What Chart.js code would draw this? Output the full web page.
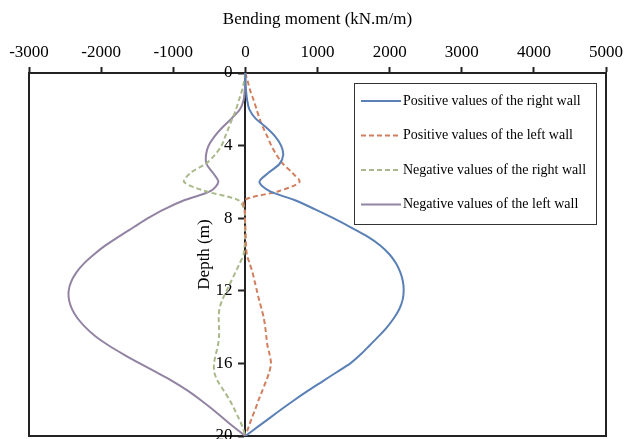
<!DOCTYPE html>
<html>
<head>
<meta charset="utf-8">
<script src="https://cdn.jsdelivr.net/npm/chart.js@4.4.1/dist/chart.umd.min.js"></script>
<style>
  html, body { margin: 0; padding: 0; background: #fff; }
  #wrap { width: 635px; height: 439px; }
</style>
</head>
<body>
<div id="wrap"><canvas id="momentChart"></canvas></div>
<script>
// depth below ground (m)
var depth = [0, 0.5, 1, 1.5, 2, 2.5, 3, 3.5, 4, 4.5, 5, 5.5, 6, 6.5, 7, 7.5, 8, 8.5, 9, 9.5,
  10, 10.5, 11, 11.5, 12, 12.5, 13, 13.5, 14, 14.5, 15, 15.5, 16, 16.5, 17, 17.5, 18, 18.5, 19, 19.5, 20];

// bending moment (kN.m/m) at each depth
var posRight = [0, 3, 10, 25, 55, 140, 290, 415, 495, 525, 475, 320, 195, 330, 680, 960, 1220, 1460, 1690, 1870,
  2000, 2090, 2150, 2185, 2195, 2180, 2135, 2060, 1965, 1850, 1725, 1600, 1455, 1260, 1065, 870, 685, 510, 340, 170, 0];
var posLeft = [0, 35, 70, 115, 155, 195, 245, 305, 360, 430, 520, 650, 750, 470, -15, -10, -5, 0, 5, 10,
  20, 60, 100, 130, 160, 190, 225, 255, 275, 290, 305, 335, 355, 330, 285, 235, 185, 140, 90, 45, 0];
var negRight = [0, -20, -50, -90, -130, -180, -230, -280, -330, -420, -550, -760, -850, -560, -100, -15, -5, -5, -5, -10,
  -25, -80, -140, -200, -260, -320, -360, -370, -365, -365, -380, -410, -435, -430, -380, -300, -220, -155, -95, -40, 0];
var negLeft = [0, -3, -10, -25, -75, -190, -320, -430, -510, -545, -540, -450, -375, -480, -840, -1120, -1350, -1550, -1750, -1940,
  -2100, -2240, -2345, -2415, -2450, -2445, -2405, -2330, -2220, -2080, -1900, -1690, -1465, -1230, -1000, -800, -625, -465, -315, -160, 0];

var seriesNames = [
  'Positive values of the right wall',
  'Positive values of the left wall',
  'Negative values of the right wall',
  'Negative values of the left wall'
];

var serif = '"Liberation Serif", "Times New Roman", serif';

function points(values) {
  return depth.map(function (d, i) { return { x: values[i], y: d }; });
}

// box around the plotting area
var frame = {
  id: 'frame',
  beforeDatasetsDraw: function (chart) {
    var a = chart.chartArea, ctx = chart.ctx;
    ctx.save();
    ctx.strokeStyle = '#222';
    ctx.lineWidth = 2;
    ctx.strokeRect(a.left, a.top, a.right - a.left, a.bottom - a.top);
    ctx.restore();
  }
};

// depth labels right-aligned against the centre axis, plus the axis title
var depthLabels = {
  id: 'depthLabels',
  beforeDatasetsDraw: function (chart) {
    var a = chart.chartArea, ctx = chart.ctx, ys = chart.scales.y;
    var x0 = chart.scales.x.getPixelForValue(0);
    ctx.save();
    ctx.font = '17px ' + serif;
    ctx.fillStyle = '#000';
    ctx.textAlign = 'right';
    ctx.textBaseline = 'middle';
    ys.ticks.forEach(function (t) {
      ctx.fillText(String(t.value), x0 - 13, ys.getPixelForValue(t.value));
    });
    ctx.translate(x0 - 41, (a.top + a.bottom) / 2);
    ctx.rotate(-Math.PI / 2);
    ctx.textAlign = 'center';
    ctx.fillText('Depth (m)', 0, 0);
    ctx.restore();
  }
};

// framed legend inside the top right corner
var boxLegend = {
  id: 'boxLegend',
  afterDatasetsDraw: function (chart) {
    var a = chart.chartArea, ctx = chart.ctx;
    var w = 242, h = 141;
    var left = a.right - 252, top = a.top + 10;
    ctx.save();
    ctx.fillStyle = '#fff';
    ctx.fillRect(left, top, w, h);
    ctx.strokeStyle = '#333';
    ctx.lineWidth = 1;
    ctx.strokeRect(left + 0.5, top + 0.5, w, h);
    ctx.font = '14px ' + serif;
    ctx.textBaseline = 'middle';
    chart.data.datasets.forEach(function (ds, i) {
      var y = top + 18 + i * 34.5;
      ctx.strokeStyle = ds.borderColor;
      ctx.lineWidth = ds.borderWidth;
      ctx.setLineDash(ds.borderDash || []);
      ctx.beginPath();
      ctx.moveTo(left + 7, y);
      ctx.lineTo(left + 47, y);
      ctx.stroke();
      ctx.setLineDash([]);
      ctx.fillStyle = '#000';
      ctx.fillText(ds.label, left + 49, y);
    });
    ctx.restore();
  }
};

new Chart(document.getElementById('momentChart'), {
  type: 'line',
  data: {
    datasets: [
      { label: seriesNames[0], data: points(posRight), borderColor: '#5a80b6', borderWidth: 2 },
      { label: seriesNames[1], data: points(posLeft), borderColor: '#d07f5f', borderWidth: 2, borderDash: [5, 3] },
      { label: seriesNames[2], data: points(negRight), borderColor: '#a9b98a', borderWidth: 2, borderDash: [5, 3] },
      { label: seriesNames[3], data: points(negLeft), borderColor: '#9283a3', borderWidth: 2 }
    ]
  },
  options: {
    responsive: true,
    maintainAspectRatio: false,
    animation: false,
    indexAxis: 'y',
    layout: { padding: { left: 29, right: 29, top: 0, bottom: 3 } },
    elements: {
      point: { radius: 0 },
      line: { tension: 0.3, fill: false }
    },
    plugins: {
      legend: { display: false },
      tooltip: { enabled: false }
    },
    scales: {
      x: {
        type: 'linear',
        position: 'top',
        min: -3000,
        max: 5000,
        ticks: {
          stepSize: 1000, color: '#000', padding: 4, font: { family: serif, size: 17 },
          callback: function (v) { return String(v); }
        },
        grid: { drawOnChartArea: false, tickLength: 6, tickWidth: 2, tickColor: '#222' },
        border: { display: true, width: 2, color: '#222' },
        title: {
          display: true,
          text: 'Bending moment (kN.m/m)',
          color: '#000',
          font: { family: serif, size: 17 },
          padding: { top: 9, bottom: 0 }
        },
        afterFit: function (s) { s.height = 73; s.paddingLeft = 0; s.paddingRight = 0; }
      },
      y: {
        type: 'linear',
        position: { x: 0 },
        reverse: true,
        min: 0,
        max: 20,
        ticks: { stepSize: 4, display: false },
        grid: { drawOnChartArea: false, tickLength: 6, tickWidth: 2, tickColor: '#222' },
        border: { display: true, width: 2, color: '#222' },
        afterFit: function (s) { s.paddingTop = 0; s.paddingBottom = 0; }
      }
    }
  },
  plugins: [frame, depthLabels, boxLegend]
});
</script>
</body>
</html>
